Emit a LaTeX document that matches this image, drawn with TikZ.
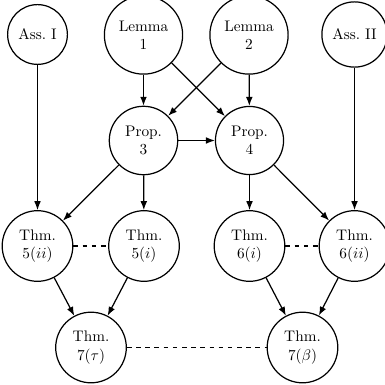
\documentclass[tikz,border=0pt]{standalone}
\usetikzlibrary{arrows.meta}
\begin{document}
\begin{tikzpicture}[x=0.6536pt,y=-0.6536pt,
  res/.style={circle,draw,thick,align=center,inner sep=5pt},
  imp/.style={thick,-{Latex[length=5.8pt,width=4.4pt]}},
  equiv/.style={thick,dashed}]
\useasboundingbox (0,0) rectangle (385,385);
% top row: assumptions and lemmas
\node[res] (a1) at (37.5,34.5) {Ass.~I};
\node[res] (l1) at (143.5,35) {Lemma\\1};
\node[res] (l2) at (249,35) {Lemma\\2};
\node[res] (a2) at (354.5,34.5) {Ass.~II};
% propositions
\node[res] (p3) at (143.5,140.5) {Prop.\\3};
\node[res] (p4) at (249.5,140.5) {Prop.\\4};
% theorems 5 and 6
\node[res] (t5b) at (37.5,246) {Thm.\\$5(ii)$};
\node[res] (t5a) at (144,246) {Thm.\\$5(i)$};
\node[res] (t6a) at (249.5,246) {Thm.\\$6(i)$};
\node[res] (t6b) at (354.5,246) {Thm.\\$6(ii)$};
% theorem 7
\node[res] (t7t) at (91,347.5) {Thm.\\$7(\tau)$};
\node[res] (t7b) at (302.5,347.5) {Thm.\\$7(\beta)$};
% implications
\draw[imp] (a1) -- (t5b);
\draw[imp] (l1) -- (p3);
\draw[imp] (l1) -- (p4);
\draw[imp] (l2) -- (p3);
\draw[imp] (l2) -- (p4);
\draw[imp] (a2) -- (t6b);
\draw[imp] (p3) -- (p4);
\draw[imp] (p3) -- (t5b);
\draw[imp] (p3) -- (t5a);
\draw[imp] (p4) -- (t6a);
\draw[imp] (p4) -- (t6b);
\draw[imp] (t5b) -- (t7t);
\draw[imp] (t5a) -- (t7t);
\draw[imp] (t6a) -- (t7b);
\draw[imp] (t6b) -- (t7b);
% equivalences
\draw[equiv] (t5b) -- (t5a);
\draw[equiv] (t6a) -- (t6b);
\draw[equiv] (t7t) -- (t7b);
\end{tikzpicture}
\end{document}
